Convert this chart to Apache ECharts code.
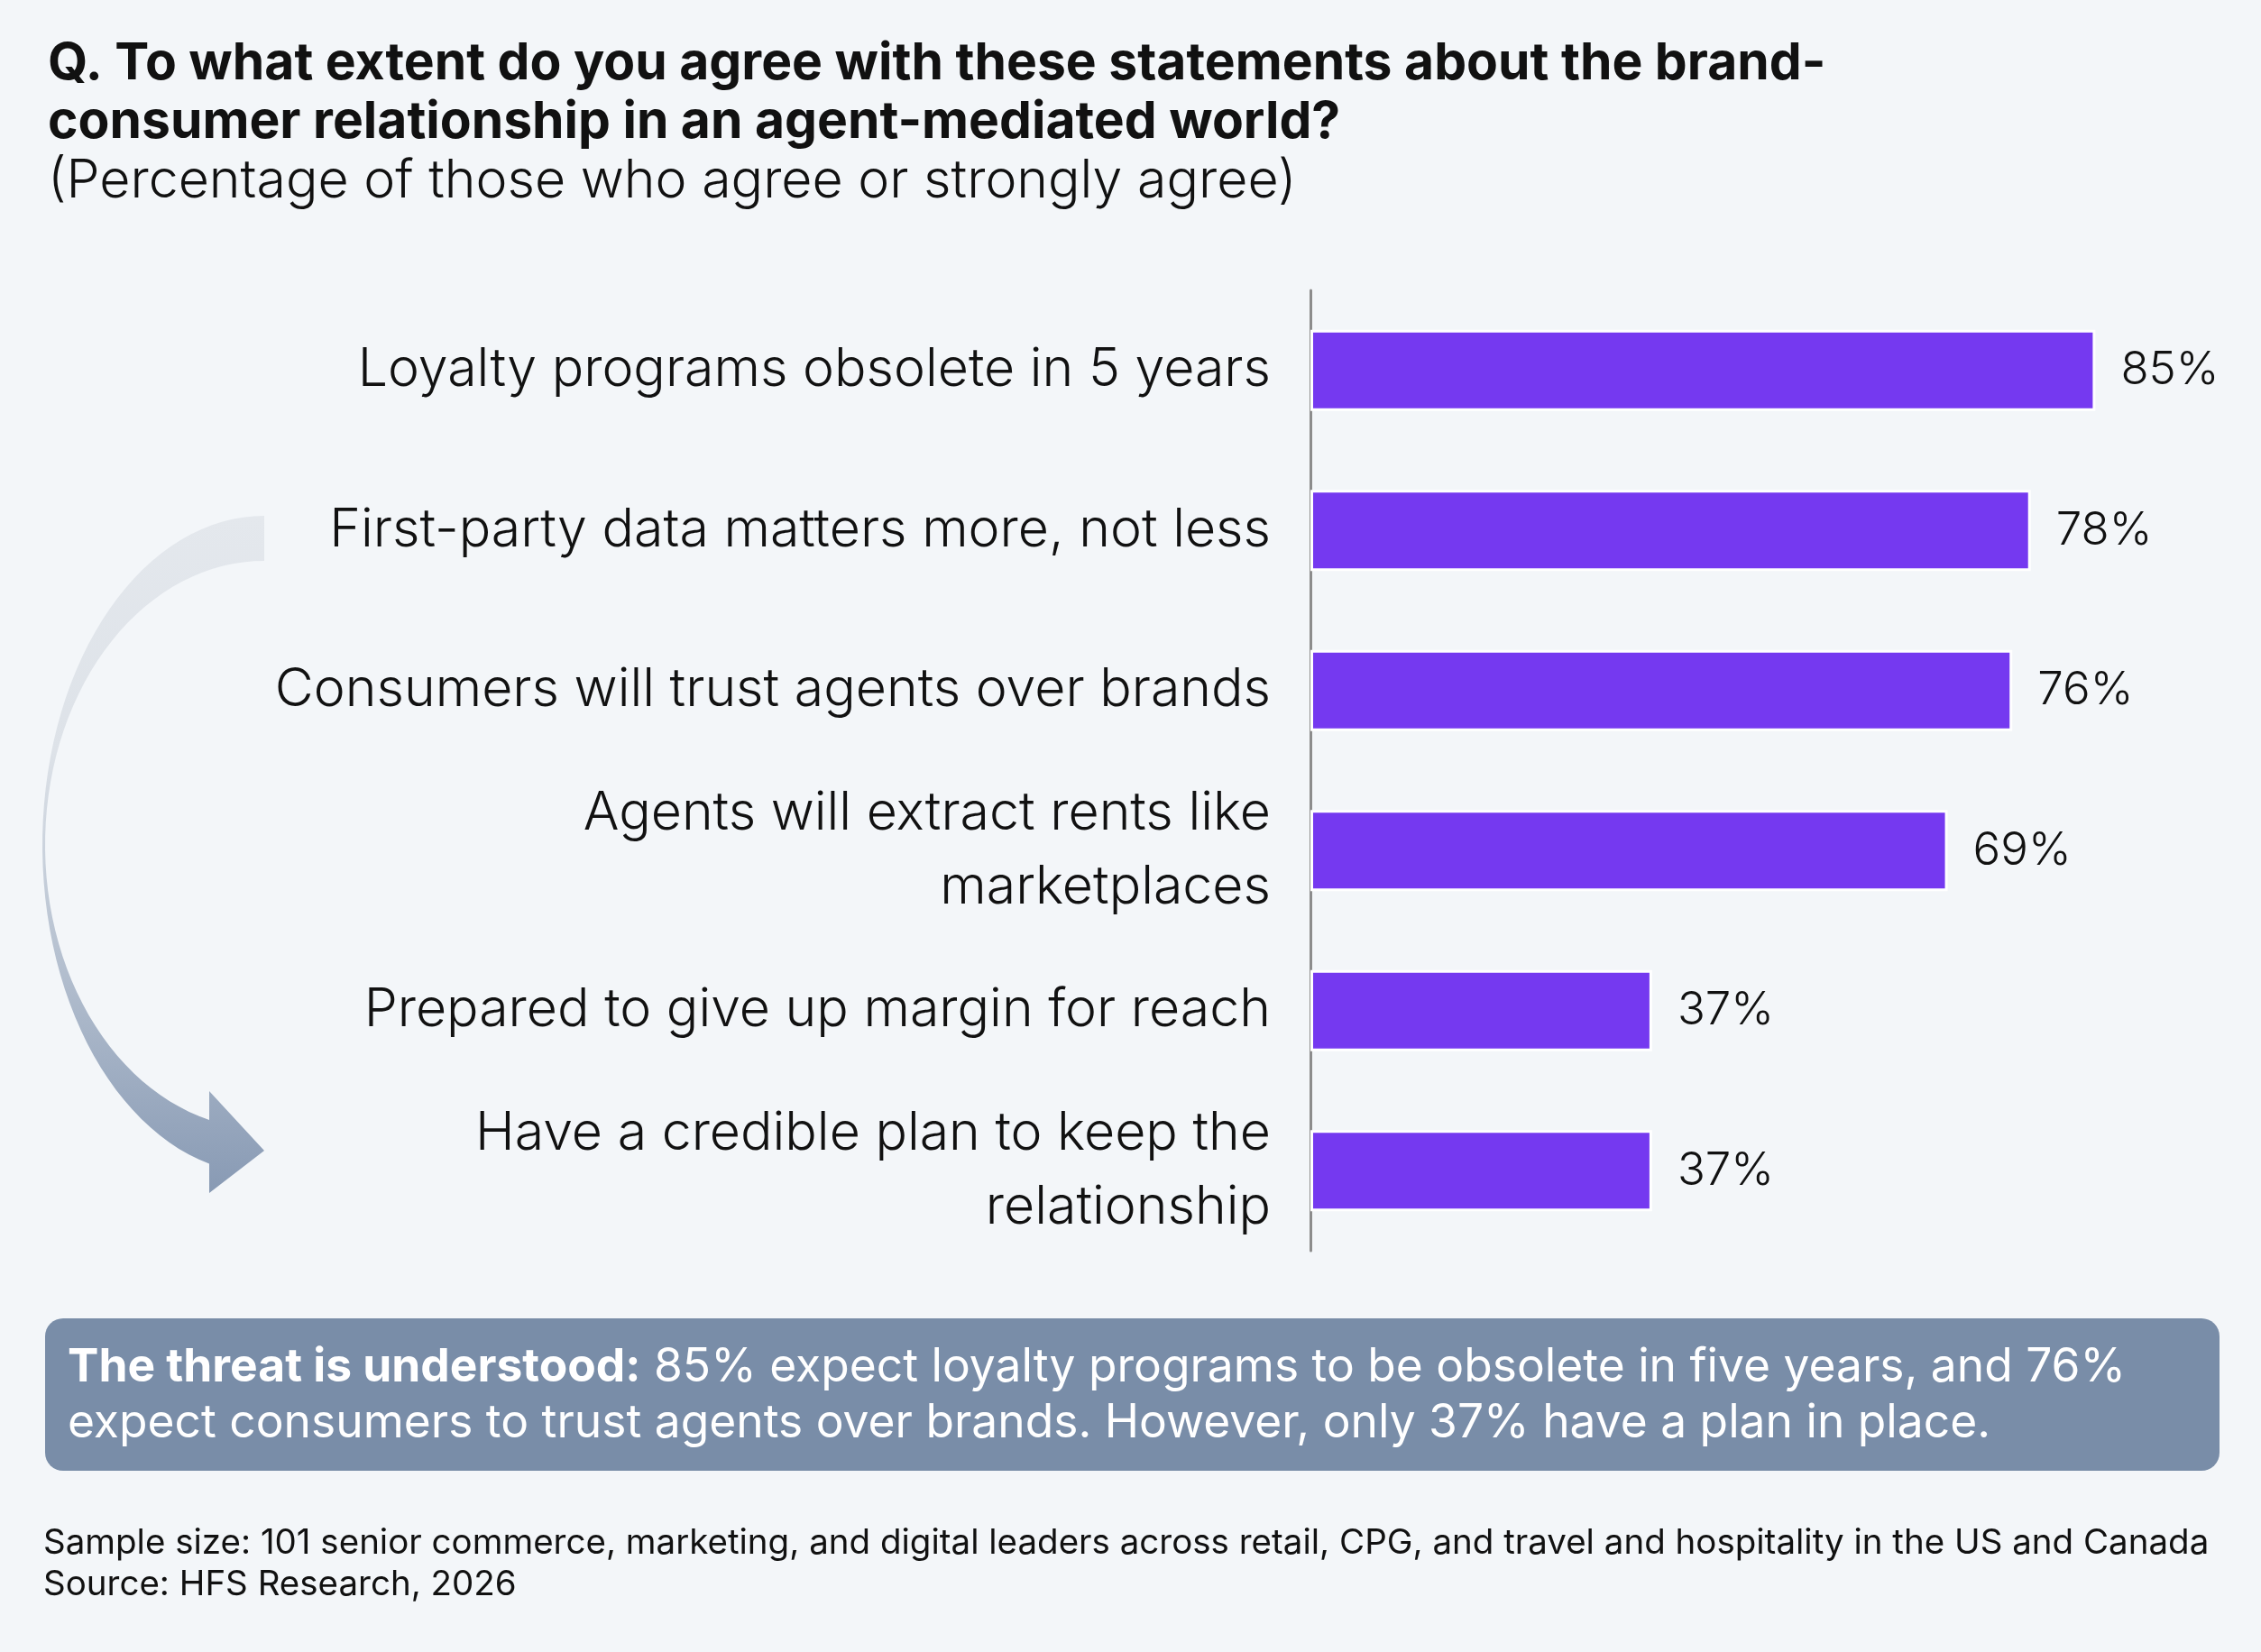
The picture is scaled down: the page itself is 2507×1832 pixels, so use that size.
<!DOCTYPE html>
<html>
<head>
<meta charset="utf-8">
<script src="https://cdn.jsdelivr.net/npm/echarts@6/dist/echarts.min.js"></script>
<style>
  html, body { margin: 0; padding: 0; background: #f3f6f9; }
  #chart { width: 2507px; height: 1832px; }
</style>
</head>
<body>
<div id="chart"></div>
<script>
// statements, top to bottom
const statements = [
  'Loyalty programs obsolete in 5 years',
  'First-party data matters more, not less',
  'Consumers will trust agents over brands',
  'Agents will extract rents like\nmarketplaces',
  'Prepared to give up margin for reach',
  'Have a credible plan to keep the\nrelationship'
];
// % agree or strongly agree
const agreePct = [85, 78, 76, 69, 37, 37];

const FONT = 'Inter, "Noto Sans", sans-serif';
const barColor = '#7539f0';

// decorative curved arrow on the left: outer/inner half-ellipse edges + head
function arrowPoints() {
  const cx = 293, cy = 937;
  const pts = [];
  // outer edge, top -> bottom going round the left side
  for (let i = 0; i <= 60; i++) {
    const ang = -Math.PI / 2 - i / 60 * (Math.PI - Math.asin(61 / 246));
    pts.push([cx + 246 * Math.cos(ang), cy + 365 * Math.sin(ang)]);
  }
  pts.push([232, 1323], [293, 1276], [232, 1210]);
  // inner edge, bottom -> top
  for (let i = 60; i >= 0; i--) {
    const ang = -Math.PI / 2 - i / 60 * (Math.PI - Math.asin(61 / 243));
    pts.push([cx + 243 * Math.cos(ang), cy + 315 * Math.sin(ang)]);
  }
  return pts;
}

const chart = echarts.init(document.getElementById('chart'));

chart.setOption({
  backgroundColor: '#f3f6f9',
  animation: false,
  grid: { left: 1453, right: 30, top: 322, height: 1065 },
  xAxis: {
    type: 'value', min: 0, max: 100, show: false
  },
  yAxis: {
    type: 'category',
    inverse: true,
    data: statements,
    axisLine: { show: true, lineStyle: { color: '#8c8c8c', width: 3 } },
    axisTick: { show: false },
    splitLine: { show: false },
    axisLabel: {
      margin: 44,
      fontFamily: FONT,
      fontWeight: 300,
      fontSize: 59,
      lineHeight: 82,
      color: '#111',
      align: 'right'
    }
  },
  series: [{
    type: 'bar',
    data: agreePct,
    barWidth: 90,
    itemStyle: { color: barColor, borderColor: '#ffffff', borderWidth: 3 },
    label: {
      show: true,
      position: 'right',
      distance: 28,
      formatter: '{c}%',
      fontFamily: FONT,
      fontWeight: 300,
      fontSize: 51,
      color: '#111'
    }
  }],
  graphic: [
    // title
    { type: 'text', x: 53, y: 42,
      style: { text: 'Q. To what extent do you agree with these statements about the brand-',
        font: '700 57px ' + FONT, fill: '#111' } },
    { type: 'text', x: 53, y: 107,
      style: { text: 'consumer relationship in an agent-mediated world?',
        font: '700 57px ' + FONT, fill: '#111' } },
    { type: 'text', x: 53, y: 172,
      style: { text: '(Percentage of those who agree or strongly agree)',
        font: '300 59px ' + FONT, fill: '#111' } },
    // curved arrow
    { type: 'polygon', z: 1,
      shape: { points: arrowPoints() },
      style: { fill: { type: 'linear', x: 0, y: 0, x2: 0, y2: 1,
        colorStops: [{ offset: 0, color: '#e4e8ed' }, { offset: 0.35, color: '#dde2e8' }, { offset: 1, color: '#889ab4' }] } } },
    // callout box
    { type: 'rect', z: 1,
      shape: { x: 50, y: 1462, width: 2411, height: 169, r: 20 },
      style: { fill: '#798da8' } },
    { type: 'text', z: 2, x: 75, y: 1491,
      style: { text: '{b|The threat is understood:} 85% expect loyalty programs to be obsolete in five years, and 76%',
        font: '400 51.5px ' + FONT, fill: '#fff',
        rich: { b: { fontFamily: FONT, fontWeight: 700, fontSize: 51.5, fill: '#fff' } } } },
    { type: 'text', z: 2, x: 75, y: 1553,
      style: { text: 'expect consumers to trust agents over brands. However, only 37% have a plan in place.',
        font: '400 51.5px ' + FONT, fill: '#fff' } },
    // footer
    { type: 'text', x: 48, y: 1692,
      style: { text: 'Sample size: 101 senior commerce, marketing, and digital leaders across retail, CPG, and travel and hospitality in the US and Canada',
        font: '400 38.5px ' + FONT, fill: '#111' } },
    { type: 'text', x: 48, y: 1738,
      style: { text: 'Source: HFS Research, 2026',
        font: '400 38.5px ' + FONT, fill: '#111' } }
  ]
});
</script>
</body>
</html>
